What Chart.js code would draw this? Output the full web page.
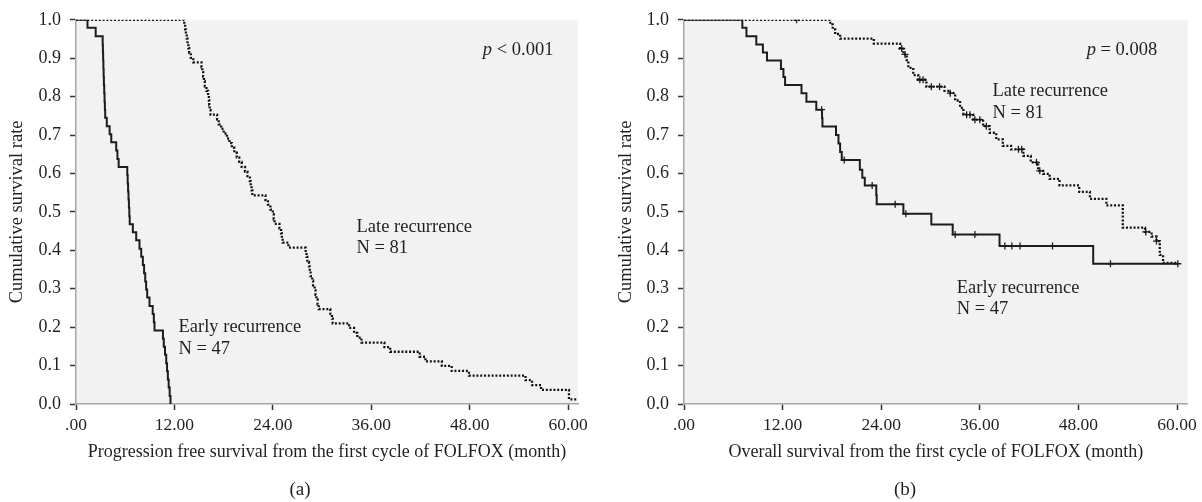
<!DOCTYPE html>
<html lang="en">
<head>
<meta charset="UTF-8">
<title>Kaplan-Meier curves, early vs late recurrence</title>
<script src="https://cdn.jsdelivr.net/npm/chart.js"></script>
<style>
  body { margin: 0; background: #fff; }
  .wrap { position: relative; width: 1202px; height: 502px; }
  .panel { position: absolute; top: 0; height: 502px; }
  #pfs-box { left: 0; width: 600px; }
  #os-box { left: 600px; width: 602px; }
</style>
</head>
<body>
<div class="wrap">
  <div class="panel" id="pfs-box"><canvas id="pfsChart"></canvas></div>
  <div class="panel" id="os-box"><canvas id="osChart"></canvas></div>
</div>
<script>
// axis ticks
const xTickValues = [0, 12, 24, 36, 48, 60];
const yTickValues = [0, 0.1, 0.2, 0.3, 0.4, 0.5, 0.6, 0.7, 0.8, 0.9, 1.0];

// (a) progression free survival, early recurrence (N = 47)
const pfsEarlyMonths = [0, 1.4, 2.4, 3.25, 3.28, 3.31, 3.34, 3.37, 3.4, 3.44, 3.48, 3.52, 3.56,
  3.75, 4.1, 4.3, 4.9, 5.05, 5.2, 6.25, 6.3, 6.35, 6.4, 6.45, 6.5, 6.55, 6.93, 7.34, 7.74,
  7.95, 8.15, 8.3, 8.44, 8.55, 8.68, 8.96, 9.35, 9.49, 9.57,
  10.6, 10.7, 10.85, 11.0, 11.1, 11.2, 11.3, 11.42, 11.52];
const pfsEarlySurv = [1, .979, .957, .936, .915, .894, .872, .851, .830, .809, .787, .766, .745,
  .723, .702, .681, .660, .638, .617, .596, .574, .553, .532, .511, .489, .468, .447, .426, .404,
  .383, .362, .340, .319, .298, .277, .255, .234, .213, .191,
  .170, .149, .128, .106, .085, .064, .043, .021, 0];

// (a) progression free survival, late recurrence (N = 81)
const pfsLateMonths = [0, 13.2, 13.3, 13.4, 13.5, 13.6, 13.7, 13.8, 14.0, 14.3, 15.3, 15.4, 15.5,
  15.6, 15.7, 15.9, 16.1, 16.2, 16.25, 16.3, 16.4, 17.2, 17.4, 17.7, 18.0, 18.4, 18.7, 19.0,
  19.3, 19.6, 19.9, 20.2, 20.6, 20.9, 21.2, 21.3, 21.4, 21.5, 23.1, 23.4, 23.7, 24.0, 24.1,
  24.2, 24.8, 25.0, 25.1, 25.2, 25.9, 28.0, 28.1, 28.2, 28.4, 28.5, 28.6, 28.8, 28.9, 29.1,
  29.2, 29.3, 29.45, 29.6, 31.0, 31.2, 31.3, 33.3, 33.9, 34.3, 34.8, 37.6, 38.3, 41.9, 42.6,
  44.6, 45.8, 47.9, 54.8, 55.6, 56.7, 60.1, 61.2];
const pfsLateSurv = [1, .988, .975, .963, .951, .938, .926, .914, .901, .889, .877, .864, .852,
  .840, .827, .815, .802, .790, .778, .765, .753, .741, .728, .716, .704, .691, .679, .667,
  .654, .642, .630, .617, .605, .593, .580, .568, .556, .543, .531, .519, .506, .494, .481,
  .469, .457, .444, .432, .420, .407, .395, .383, .370, .358, .346, .333, .321, .309, .296,
  .284, .272, .259, .247, .235, .222, .210, .198, .185, .173, .160, .148, .136, .123, .111,
  .099, .086, .074, .062, .049, .037, .012, .012];

// (b) overall survival, early recurrence
const osEarlyMonths = [0, 7.1, 7.6, 8.8, 9.6, 10.1, 11.8, 12.1, 12.3, 14.3, 14.9, 16.1, 16.8,
  16.85, 18.5, 18.8, 19.0, 19.2, 21.4, 21.7, 22.0, 23.4, 23.45, 26.7, 30.1, 32.7, 38.4, 49.8, 60.1];
const osEarlySurv = [1, .979, .957, .936, .915, .894, .872, .851, .830, .809, .787, .766, .744,
  .722, .700, .678, .656, .635, .610, .589, .569, .544, .520, .495, .467, .441, .411, .365, .365];
const osEarlyCensored = [16.75, 19.5, 22.9, 25.7, 27.0, 33.0, 35.4, 39.05, 39.9, 40.9, 44.85, 51.9, 60.1];

// (b) overall survival, late recurrence
const osLateMonths = [0, 17.8, 18.1, 18.4, 19.0, 23.1, 26.3, 26.7, 27.1, 27.3, 27.9, 28.5, 29.5,
  31.7, 32.4, 33.0, 33.6, 34.0, 35.2, 36.4, 37.2, 38.0, 38.8, 39.8, 41.3, 42.2, 43.1, 43.7, 44.5,
  45.7, 48.1, 49.4, 51.4, 53.4, 56.1, 56.9, 57.5, 57.9, 58.3, 60.1];
const osLateSurv = [1, .988, .975, .963, .951, .938, .925, .910, .895, .875, .856, .844, .826,
  .815, .809, .790, .771, .753, .740, .723, .706, .689, .672, .663, .646, .629, .607, .599, .586,
  .569, .552, .534, .517, .459, .448, .436, .424, .388, .367, .367];
const osLateCensored = [13.7, 26.5, 26.9, 28.7, 29.1, 30.1, 31.1, 32.4, 34.4, 34.8, 35.4, 36.0,
  36.8, 40.7, 41.1, 42.9, 43.3, 56.2, 57.5];

const FONT = "'Liberation Serif', 'DejaVu Serif', serif";
const INK = '#231f20';
const LINE = '#1c1c1c';

function toPoints(months, surv) {
  return months.map((m, i) => ({ x: m, y: surv[i] }));
}

// censored cases sit on the curve level at their time
function censorPoints(times, months, surv) {
  return times.map(t => {
    let s = surv[0];
    for (let i = 0; i < months.length; i++) {
      if (months[i] <= t) s = surv[i];
    }
    return { x: t, y: s };
  });
}

const kmNotes = {
  id: 'kmNotes',
  beforeDraw(chart) {
    const a = chart.chartArea;
    const ctx = chart.ctx;
    ctx.save();
    ctx.fillStyle = '#f2f2f2';
    ctx.fillRect(a.left, a.top, a.right - a.left, a.bottom - a.top);
    ctx.restore();
  },
  afterDraw(chart, args, opts) {
    const ctx = chart.ctx;
    const xs = chart.scales.x, ys = chart.scales.y;
    ctx.save();
    ctx.fillStyle = INK;
    ctx.textBaseline = 'middle';
    ctx.textAlign = 'left';
    (opts.items || []).forEach(n => {
      const px = xs.getPixelForValue(n.x);
      const py = ys.getPixelForValue(n.y);
      if (n.italic) {
        ctx.font = 'italic 18.5px ' + FONT;
        ctx.fillText(n.italic, px, py);
        const w = ctx.measureText(n.italic).width;
        ctx.font = '18.5px ' + FONT;
        ctx.fillText(n.text, px + w, py);
      } else {
        ctx.font = '18.5px ' + FONT;
        ctx.fillText(n.text, px, py);
      }
    });
    if (opts.caption) {
      ctx.textAlign = 'center';
      ctx.font = '19px ' + FONT;
      ctx.fillText(opts.caption.text, opts.caption.px, opts.caption.py);
    }
    ctx.restore();
  }
};

function makeChart(id, cfg) {
  const datasets = [
    { data: toPoints(cfg.earlyMonths, cfg.earlySurv), borderColor: LINE, borderWidth: 2,
      stepped: true, pointRadius: 0, fill: false },
    { data: toPoints(cfg.lateMonths, cfg.lateSurv), borderColor: '#111', borderWidth: 2.3,
      borderDash: [2, 1.8], stepped: true, pointRadius: 0, fill: false }
  ];
  (cfg.censored || []).forEach(c => {
    datasets.push({ data: c, showLine: false, pointStyle: 'cross', pointRadius: 3.5,
      borderColor: LINE, borderWidth: 1.3 });
  });

  return new Chart(document.getElementById(id), {
    type: 'line',
    data: { datasets: datasets },
    plugins: [kmNotes],
    options: {
      responsive: true,
      maintainAspectRatio: false,
      animation: false,
      layout: { padding: { top: 16, right: cfg.padRight, left: 0, bottom: 0 } },
      plugins: {
        legend: { display: false },
        tooltip: { enabled: false },
        kmNotes: { items: cfg.notes, caption: cfg.caption }
      },
      scales: {
        x: {
          type: 'linear',
          min: 0,
          max: cfg.xMax,
          afterFit(s) { s.height = 98; },
          afterBuildTicks(s) { s.ticks = xTickValues.map(v => ({ value: v })); },
          ticks: {
            callback: v => v === 0 ? '.00' : v.toFixed(2),
            font: { family: FONT, size: 17.5 }, color: INK, padding: 5,
            maxRotation: 0, autoSkip: false
          },
          grid: { drawOnChartArea: false, drawTicks: true, tickLength: 6, tickColor: '#333', tickWidth: 1.5 },
          border: { color: '#a6a6a6', width: 1.5 },
          title: { display: true, text: cfg.xTitle, color: INK,
            font: { family: FONT, size: 18 }, padding: { bottom: 39 } }
        },
        y: {
          min: 0,
          max: 1,
          afterFit(s) { s.width = cfg.yWidth; },
          afterBuildTicks(s) { s.ticks = yTickValues.map(v => ({ value: v })); },
          ticks: {
            callback: v => v.toFixed(1),
            font: { family: FONT, size: 18 }, color: INK, padding: 9
          },
          grid: { drawOnChartArea: false, drawTicks: true, tickLength: 6, tickColor: '#333', tickWidth: 1.5 },
          border: { color: '#a6a6a6', width: 1.5 },
          title: { display: true, text: 'Cumulative survival rate', color: INK,
            font: { family: FONT, size: 18.5 }, padding: { top: cfg.yTitlePad } }
        }
      }
    }
  });
}

makeChart('pfsChart', {
  earlyMonths: pfsEarlyMonths, earlySurv: pfsEarlySurv,
  lateMonths: pfsLateMonths, lateSurv: pfsLateSurv,
  xMax: 61.2, yWidth: 76, padRight: 22, yTitlePad: 6,
  xTitle: 'Progression free survival from the first cycle of FOLFOX (month)',
  notes: [
    { italic: 'p', text: ' < 0.001', x: 49.6, y: 0.92 },
    { text: 'Late recurrence', x: 34.2, y: 0.461 },
    { text: 'N = 81', x: 34.2, y: 0.405 },
    { text: 'Early recurrence', x: 12.5, y: 0.201 },
    { text: 'N = 47', x: 12.5, y: 0.144 }
  ],
  caption: { text: '(a)', px: 300, py: 490 }
});

makeChart('osChart', {
  earlyMonths: osEarlyMonths, earlySurv: osEarlySurv,
  lateMonths: osLateMonths, lateSurv: osLateSurv,
  censored: [
    censorPoints(osEarlyCensored, osEarlyMonths, osEarlySurv),
    censorPoints(osLateCensored, osLateMonths, osLateSurv)
  ],
  xMax: 61.3, yWidth: 84, padRight: 14, yTitlePad: 15,
  xTitle: 'Overall survival from the first cycle of FOLFOX (month)',
  notes: [
    { italic: 'p', text: ' = 0.008', x: 49.0, y: 0.921 },
    { text: 'Late recurrence', x: 37.55, y: 0.814 },
    { text: 'N = 81', x: 37.55, y: 0.758 },
    { text: 'Early recurrence', x: 33.2, y: 0.302 },
    { text: 'N = 47', x: 33.2, y: 0.247 }
  ],
  caption: { text: '(b)', px: 305, py: 490 }
});
</script>
</body>
</html>
